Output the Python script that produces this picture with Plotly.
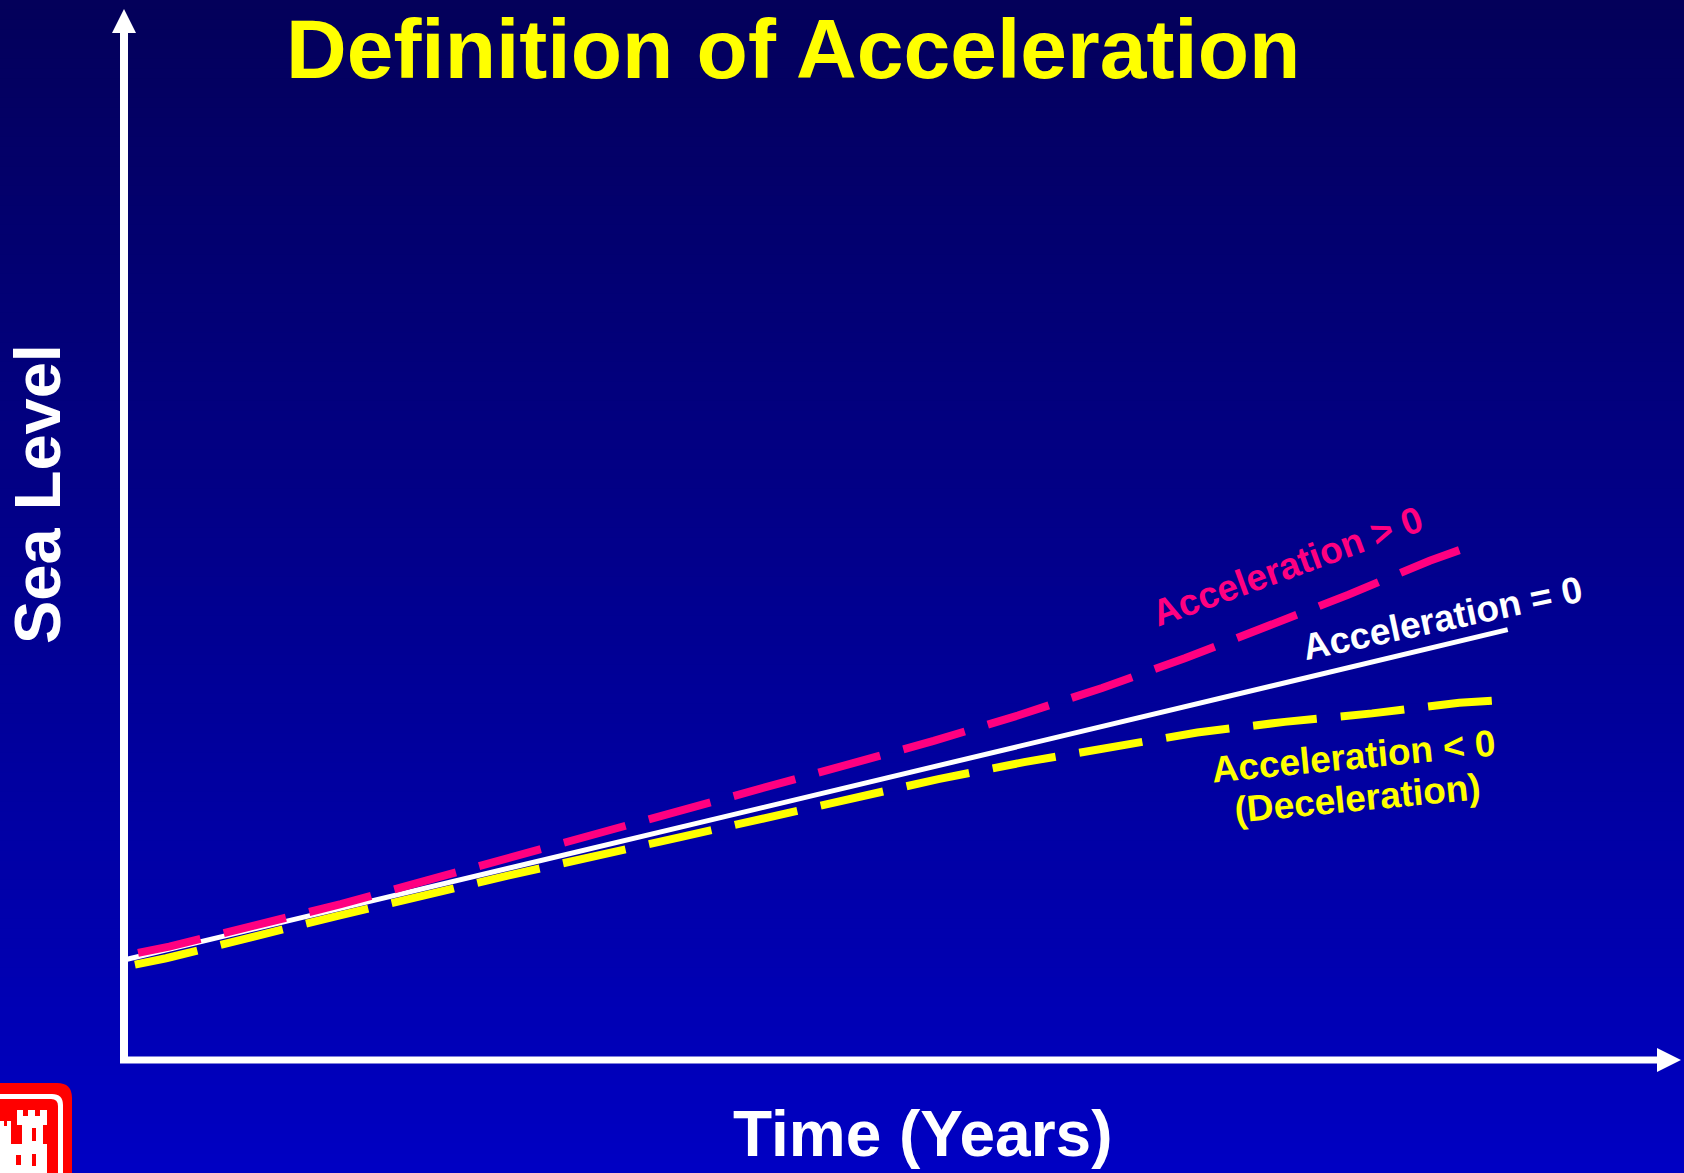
import plotly.graph_objects as go

# 데이터 (시간: 년, 해수면: 임의 단위)
time_zero = [0.2, 88.7]
level_zero = [9.5, 40.6]

time_pos = [0.9, 2.9, 13.9, 24.7, 35.6, 46.5, 51.9, 57.3, 62.7, 68.0, 73.3, 78.5, 83.7, 85.6]
level_pos = [10.1, 10.7, 14.7, 19.1, 23.4, 27.8, 30.1, 32.5, 35.1, 37.9, 40.9, 43.9, 47.1, 48.1]

time_neg = [0.7, 2.7, 13.7, 24.6, 35.6, 46.7, 52.2, 57.7, 63.3, 68.8, 74.4, 80.0, 85.6, 87.7]
level_neg = [9.0, 9.6, 13.6, 17.4, 21.0, 24.7, 26.5, 28.1, 29.5, 30.9, 31.9, 32.7, 33.7, 33.9]

W, H = 1684, 1173
FONT = "Liberation Sans, Arial, sans-serif"


# 픽셀 -> paper 좌표
def px(x):
    return x / W


def py(y):
    return 1 - y / H


def path(cmds):
    # 명령마다 좌표 하나씩 (Q 는 제어점 + 끝점)
    out = []
    for c in cmds:
        if c[0] == 'Z':
            out.append('Z')
        elif c[0] == 'Q':
            (a, b), (d, e) = c[1], c[2]
            out.append('Q%.5f,%.5f %.5f,%.5f' % (px(a), py(b), px(d), py(e)))
        else:
            for a, b in c[1:]:
                out.append('%s%.5f,%.5f' % (c[0], px(a), py(b)))
    return ' '.join(out)


fig = go.Figure()

fig.add_trace(go.Scatter(x=time_zero, y=level_zero, mode='lines', name='Acceleration = 0',
                         line=dict(color='white', width=5), showlegend=False))
fig.add_trace(go.Scatter(x=time_pos, y=level_pos, mode='lines', name='Acceleration > 0',
                         line=dict(color='#FF0080', width=8, dash='64px,24px'), showlegend=False))
fig.add_trace(go.Scatter(x=time_neg, y=level_neg, mode='lines', name='Acceleration < 0',
                         line=dict(color='#FFFF00', width=8, dash='64px,24px'), showlegend=False))

shapes = []

# 배경 그라데이션
n = 120
top, bot = (3, 0, 90), (0, 0, 195)
for i in range(n):
    t = (i + 0.5) / n
    c = tuple(round(top[k] + (bot[k] - top[k]) * t) for k in range(3))
    shapes.append(dict(type='rect', xref='paper', yref='paper', x0=0, x1=1,
                       y0=1 - i / n, y1=1 - (i + 1) / n - 0.001, layer='below',
                       line=dict(width=0), fillcolor='rgb(%d,%d,%d)' % c))

# 축 화살표
shapes.append(dict(type='line', xref='paper', yref='paper', x0=px(124), x1=px(124),
                   y0=py(1063), y1=py(30), line=dict(color='white', width=8)))
shapes.append(dict(type='line', xref='paper', yref='paper', x0=px(120), x1=px(1660),
                   y0=py(1060), y1=py(1060), line=dict(color='white', width=7)))
shapes.append(dict(type='path', xref='paper', yref='paper',
                   path=path([('M', (124, 9)), ('L', (136, 33), (112, 33)), ('Z',)]),
                   fillcolor='white', line=dict(width=0)))
shapes.append(dict(type='path', xref='paper', yref='paper',
                   path=path([('M', (1681, 1060)), ('L', (1657, 1048), (1657, 1072)), ('Z',)]),
                   fillcolor='white', line=dict(width=0)))

# 로고 (왼쪽 아래)
logo = [
    ('red', [('M', (-5, 1083)), ('L', (57, 1083)), ('Q', (72, 1083), (72, 1098)),
             ('L', (72, 1180), (-5, 1180)), ('Z',)]),
    ('white', [('M', (-5, 1094)), ('L', (52, 1094)), ('Q', (63, 1094), (63, 1105)),
               ('L', (63, 1180), (58, 1180), (58, 1106)), ('Q', (58, 1099), (51, 1099)),
               ('L', (-5, 1099)), ('Z',)]),
    ('white', [('M', (17, 1110)), ('L', (23, 1110), (23, 1116), (28, 1116), (28, 1110),
                                   (35, 1110), (35, 1116), (40, 1116), (40, 1110),
                                   (47, 1110), (47, 1125), (43, 1125), (43, 1144),
                                   (47, 1144), (47, 1180), (-5, 1180), (-5, 1121),
                                   (4, 1121), (4, 1126), (7, 1126), (7, 1121), (11, 1121),
                                   (11, 1144), (22, 1144), (22, 1125), (17, 1125)), ('Z',)]),
    ('red', [('M', (32, 1128)), ('L', (36, 1128), (36, 1141), (32, 1141)), ('Z',)]),
    ('red', [('M', (16, 1155)), ('L', (21, 1155), (21, 1165), (16, 1165)), ('Z',)]),
    ('red', [('M', (32, 1154)), ('L', (36, 1154), (36, 1166), (32, 1166)), ('Z',)]),
]
for col, cmds in logo:
    shapes.append(dict(type='path', xref='paper', yref='paper', path=path(cmds),
                       fillcolor=col, line=dict(width=0)))

annotations = [
    dict(text='<b>Definition of Acceleration</b>', x=px(793), y=1, yanchor='top',
         font=dict(size=84, color='#FFFF00')),
    dict(text='<b>Sea Level</b>', x=px(37), y=py(494), textangle=-90,
         font=dict(size=65, color='white')),
    dict(text='<b>Time (Years)</b>', x=px(922), y=py(1134),
         font=dict(size=64, color='white')),
    dict(text='<b>Acceleration > 0</b>', x=px(1287), y=py(566), textangle=-20,
         font=dict(size=37, color='#FF0080')),
    dict(text='<b>Acceleration = 0</b>', x=px(1442), y=py(618), textangle=-12,
         font=dict(size=37, color='white')),
    dict(text='<b>Acceleration < 0</b>', x=px(1353), y=py(756), textangle=-5.5,
         font=dict(size=37, color='#FFFF00')),
    dict(text='<b>(Deceleration)</b>', x=px(1357), y=py(798), textangle=-5.5,
         font=dict(size=37, color='#FFFF00')),
]
for a in annotations:
    a.setdefault('yanchor', 'middle')
    a.update(xref='paper', yref='paper', showarrow=False, xanchor='center')
    a['font']['family'] = FONT

fig.update_layout(
    width=W, height=H,
    margin=dict(l=0, r=0, t=0, b=0),
    paper_bgcolor='rgb(3,0,90)',
    plot_bgcolor='rgba(0,0,0,0)',
    shapes=shapes,
    annotations=annotations,
    showlegend=False,
    xaxis=dict(range=[-124 / 15.6, (W - 124) / 15.6], visible=False, fixedrange=True),
    yaxis=dict(range=[-(H - 1060) / 10.6, 1060 / 10.6], visible=False, fixedrange=True),
)

fig.write_html("out.html", config={'displayModeBar': False},
               post_script="document.body.style.margin='0';document.body.style.overflow='hidden';")
